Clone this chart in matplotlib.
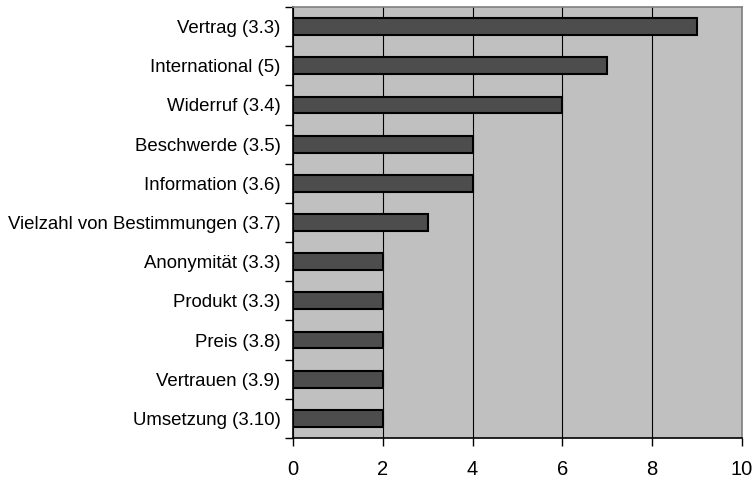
import matplotlib
matplotlib.use("Agg")
import matplotlib.pyplot as plt
import numpy as np

categories = ["Vertrag (3.3)", "International (5)", "Widerruf (3.4)", "Beschwerde (3.5)",
              "Information (3.6)", "Vielzahl von Bestimmungen (3.7)", "Anonymität (3.3)",
              "Produkt (3.3)", "Preis (3.8)", "Vertrauen (3.9)", "Umsetzung (3.10)"]
values = [9, 7, 6, 4, 4, 3, 2, 2, 2, 2, 2]
xticks = [0, 2, 4, 6, 8, 10]

plt.rcParams['font.family'] = ['Liberation Sans', 'DejaVu Sans']

fig = plt.figure(figsize=(7.55, 4.79), dpi=100)
ax = fig.add_axes([293/755, 1 - 438/479, (742-293)/755, (438-7)/479])
ax.set_facecolor('#C0C0C0')

n = len(categories)
pos = np.arange(n)[::-1]
ax.barh(pos, values, height=0.43, color='#4D4D4D', edgecolor='black', linewidth=1.5, zorder=3)
ax.set_xlim(0, 10)
ax.set_ylim(-0.5, n - 0.5)
ax.set_xticks(xticks)
ax.set_xticklabels([str(t) for t in xticks], fontsize=14.5)
ax.set_yticks(pos)
ax.set_yticklabels(categories, fontsize=13.4)
ax.tick_params(axis='y', length=0, pad=9)
ax.set_yticks(np.arange(n + 1) - 0.5, minor=True)
ax.tick_params(axis='y', which='minor', length=6, width=1, direction='out', color='black')
ax.tick_params(axis='x', length=6, width=1, direction='out', pad=9.5)
ax.xaxis.grid(True, color='black', linewidth=0.8, zorder=1)
ax.set_axisbelow(True)
for s in ['top', 'right']:
    ax.spines[s].set_color('#808080')
    ax.spines[s].set_linewidth(1.2)
for s in ['left', 'bottom']:
    ax.spines[s].set_color('black')
    ax.spines[s].set_linewidth(1.2)

fig.savefig('out.png', dpi=100)
